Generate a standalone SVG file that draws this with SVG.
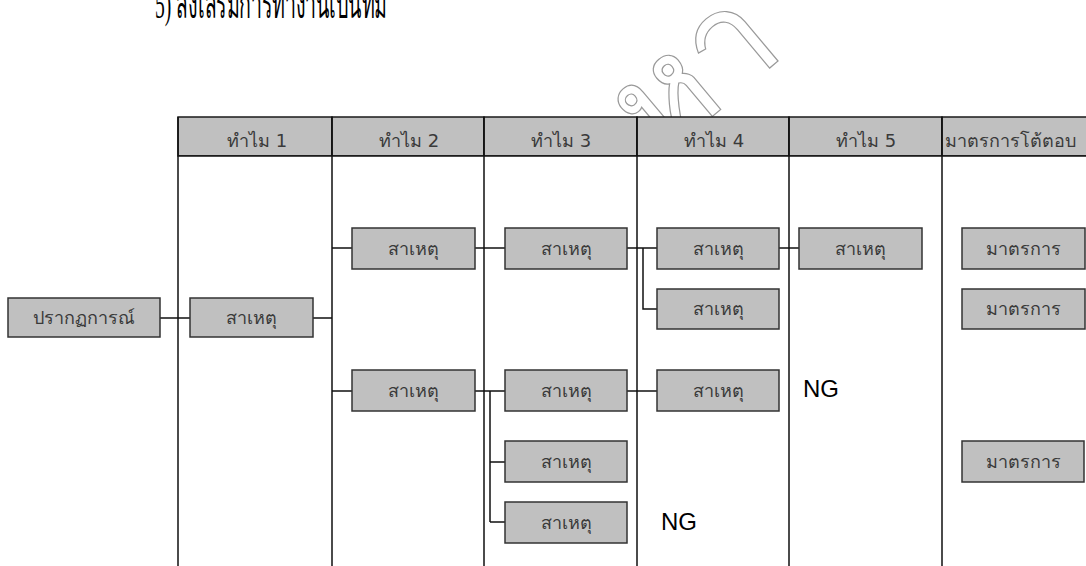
<svg xmlns="http://www.w3.org/2000/svg" width="1086" height="566" viewBox="0 0 1086 566">
  <style>
    .hdr { fill: #c0c0c0; stroke: #1a1a1a; stroke-width: 1.5; }
    .box { fill: #c0c0c0; stroke: #333; stroke-width: 1.5; }
    .t { font-family: "Tahoma", "DejaVu Sans", "Noto Sans", sans-serif; font-size: 18px; fill: #3a3a3a; text-anchor: middle; }
    .ln { stroke: #111; stroke-width: 1.5; fill: none; }
    .ng { font-family: "Liberation Sans", Arial, sans-serif; font-size: 24px; fill: #000; }
  </style>

  <rect x="0" y="0" width="1086" height="566" fill="#fff"/>

  <!-- heading, running off the top edge -->
  <text x="155" y="18" font-family="'Liberation Serif', 'DejaVu Serif', serif" font-size="40" textLength="232" lengthAdjust="spacingAndGlyphs" fill="#000">5) ส่งเสริมการทำงานเป็นทีม</text>

  <!-- outlined watermark, partly hidden by the table -->
  <text id="watermark" x="0" y="0" transform="translate(658,162) rotate(-40)" font-family="'DejaVu Serif', serif" font-size="140" fill="none" stroke="#9a9a9a" stroke-width="1.2">หา</text>

  <!-- table: header row and column rules -->
  <g id="table">
    <rect class="hdr" x="178" y="117" width="154" height="39"/>
    <rect class="hdr" x="332" y="117" width="152" height="39"/>
    <rect class="hdr" x="484" y="117" width="153" height="39"/>
    <rect class="hdr" x="637" y="117" width="152" height="39"/>
    <rect class="hdr" x="789" y="117" width="153" height="39"/>
    <rect class="hdr" x="942" y="117" width="160" height="39"/>
    <rect x="178" y="156" width="908" height="410" fill="#fff"/>
    <text class="t" x="257" y="147">ทำไม 1</text>
    <text class="t" x="409" y="147">ทำไม 2</text>
    <text class="t" x="561" y="147">ทำไม 3</text>
    <text class="t" x="714" y="147">ทำไม 4</text>
    <text class="t" x="866" y="147">ทำไม 5</text>
    <text class="t" x="945" y="147" style="text-anchor:start">มาตรการโต้ตอบ</text>
    <path class="ln" d="M178 117V566M332 117V566M484 117V566M637 117V566M789 117V566M942 117V566M178 156H1086"/>
  </g>

  <!-- connectors -->
  <g id="connectors">
    <path class="ln" d="M160 318H190M313 318H332"/>
    <path class="ln" d="M332 248H352M332 391H352"/>
    <path class="ln" d="M475 248H505"/>
    <path class="ln" d="M475 391H505M490 391V522M490 462H505M490 522H505"/>
    <path class="ln" d="M627 248H657M643 248V309H657"/>
    <path class="ln" d="M627 391H657"/>
    <path class="ln" d="M779 248H799"/>
  </g>

  <g id="phenomenon"><rect class="box" x="8" y="298" width="152" height="39"/><text class="t" x="84" y="324">ปรากฏการณ์</text></g>
  <g id="cause1"><rect class="box" x="190" y="298" width="123" height="39"/><text class="t" x="251" y="324">สาเหตุ</text></g>
  <g id="cause2a"><rect class="box" x="352" y="228" width="123" height="41"/><text class="t" x="413" y="255">สาเหตุ</text></g>
  <g id="cause2b"><rect class="box" x="352" y="370" width="123" height="41"/><text class="t" x="413" y="397">สาเหตุ</text></g>
  <g id="cause3a"><rect class="box" x="505" y="228" width="122" height="41"/><text class="t" x="566" y="255">สาเหตุ</text></g>
  <g id="cause3b"><rect class="box" x="505" y="370" width="122" height="41"/><text class="t" x="566" y="397">สาเหตุ</text></g>
  <g id="cause3c"><rect class="box" x="505" y="441" width="122" height="41"/><text class="t" x="566" y="468">สาเหตุ</text></g>
  <g id="cause3d"><rect class="box" x="505" y="502" width="122" height="41"/><text class="t" x="566" y="529">สาเหตุ</text></g>
  <g id="cause4a"><rect class="box" x="657" y="228" width="122" height="41"/><text class="t" x="718" y="255">สาเหตุ</text></g>
  <g id="cause4b"><rect class="box" x="657" y="289" width="122" height="40"/><text class="t" x="718" y="315">สาเหตุ</text></g>
  <g id="cause4c"><rect class="box" x="657" y="370" width="122" height="41"/><text class="t" x="718" y="397">สาเหตุ</text></g>
  <g id="cause5a"><rect class="box" x="799" y="228" width="123" height="41"/><text class="t" x="860" y="255">สาเหตุ</text></g>
  <g id="measure1"><rect class="box" x="962" y="228" width="123" height="41"/><text class="t" x="1023" y="255">มาตรการ</text></g>
  <g id="measure2"><rect class="box" x="962" y="289" width="123" height="40"/><text class="t" x="1023" y="315">มาตรการ</text></g>
  <g id="measure3"><rect class="box" x="962" y="441" width="122" height="41"/><text class="t" x="1023" y="468">มาตรการ</text></g>

  <g id="ng-labels">
    <text class="ng" x="803" y="397">NG</text>
    <text class="ng" x="661" y="530">NG</text>
  </g>
</svg>
